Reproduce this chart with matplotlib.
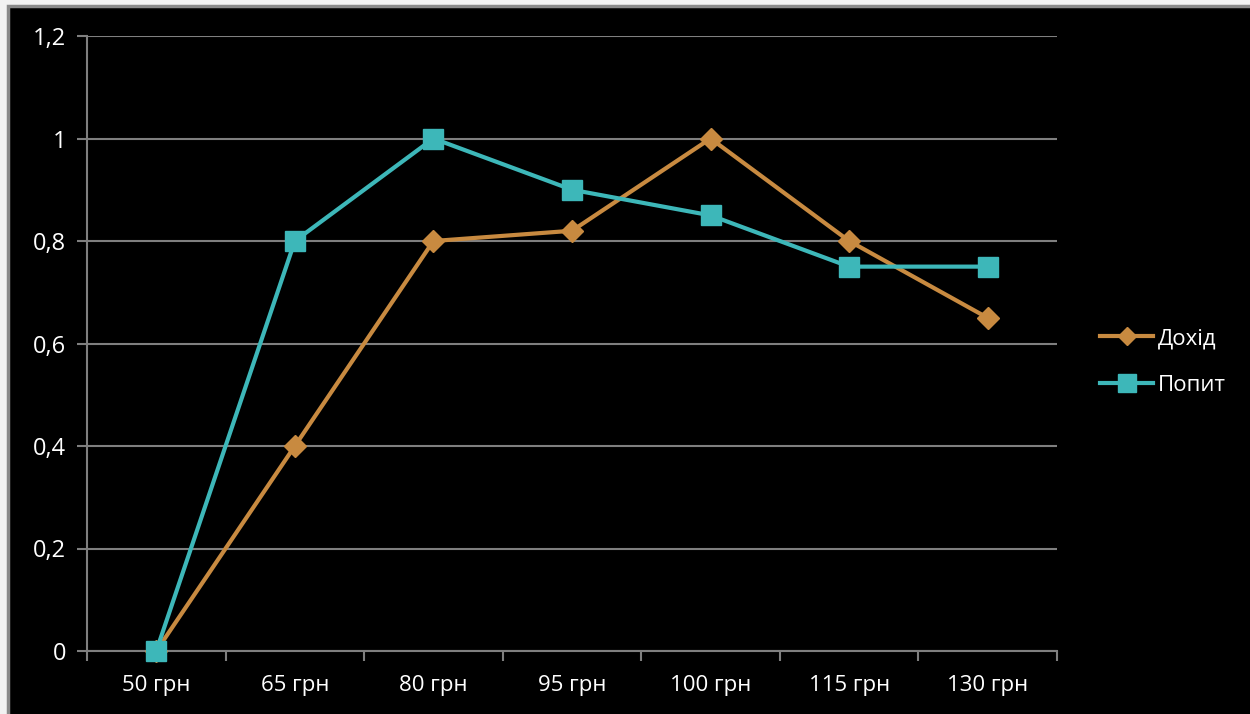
import numpy as np
import matplotlib.pyplot as plt
from matplotlib.patches import Rectangle

categories = ["50 грн", "65 грн", "80 грн", "95 грн", "100 грн", "115 грн", "130 грн"]
dohid = [0, 0.4, 0.8, 0.82, 1.0, 0.8, 0.65]
popyt = [0, 0.8, 1.0, 0.9, 0.85, 0.75, 0.75]
yticks = [0, 0.2, 0.4, 0.6, 0.8, 1.0, 1.2]
ylabels = ["0", "0,2", "0,4", "0,6", "0,8", "1", "1,2"]

plt.rcParams['font.family'] = ['Open Sans', 'DejaVu Sans']

W, H = 1250, 714
fig = plt.figure(figsize=(12.5, 7.14), dpi=100, facecolor='#f2f2f2')

# black slide background with grey border (runs off the right and bottom edges)
fig.patches.append(Rectangle((8 / W, -0.05), 1.1, 1.05 - 6 / H, transform=fig.transFigure,
                             facecolor='black', edgecolor='#8a8a8a', linewidth=2.5, zorder=-1))

ax = fig.add_axes([87 / W, 1 - 651 / H, 970 / W, 615 / H])
ax.set_facecolor('black')

x = np.arange(len(categories))
orange = '#C88A40'
teal = '#3DB7B9'
grid_c = '#7f7f7f'
ax.plot(x, dohid, color=orange, lw=3, marker='D', markersize=11, label='Дохід', zorder=3,
        clip_on=False)
ax.plot(x, popyt, color=teal, lw=3, marker='s', markersize=15, label='Попит', zorder=4,
        clip_on=False)

ax.set_xlim(-0.5, len(categories) - 0.5)
ax.set_ylim(0, 1.2)
ax.set_yticks(yticks)
ax.set_yticklabels(ylabels)
ax.set_xticks(x)
ax.set_xticklabels(categories)
ax.set_xticks(np.arange(-0.5, len(categories)), minor=True)
ax.tick_params(axis='x', which='major', length=0, pad=17, labelsize=16, colors='white')
ax.tick_params(axis='x', which='minor', length=7, width=1.5, color=grid_c, direction='out')
ax.tick_params(axis='y', length=7, width=1.5, color=grid_c, labelsize=17, labelcolor='white', pad=8)

ax.grid(axis='y', color=grid_c, lw=1.5)
ax.set_axisbelow(True)
for s in ['top', 'right']:
    ax.spines[s].set_visible(False)
for s in ['left', 'bottom']:
    ax.spines[s].set_color(grid_c)
    ax.spines[s].set_linewidth(1.5)

leg = fig.legend(loc='center left', bbox_to_anchor=(1080 / W, 1 - 362 / H), frameon=False,
                 fontsize=16, labelcolor='white', handlelength=2.4, handletextpad=0.2,
                 labelspacing=1.15, markerscale=0.85)

fig.savefig('out.png', dpi=100, facecolor=fig.get_facecolor())
